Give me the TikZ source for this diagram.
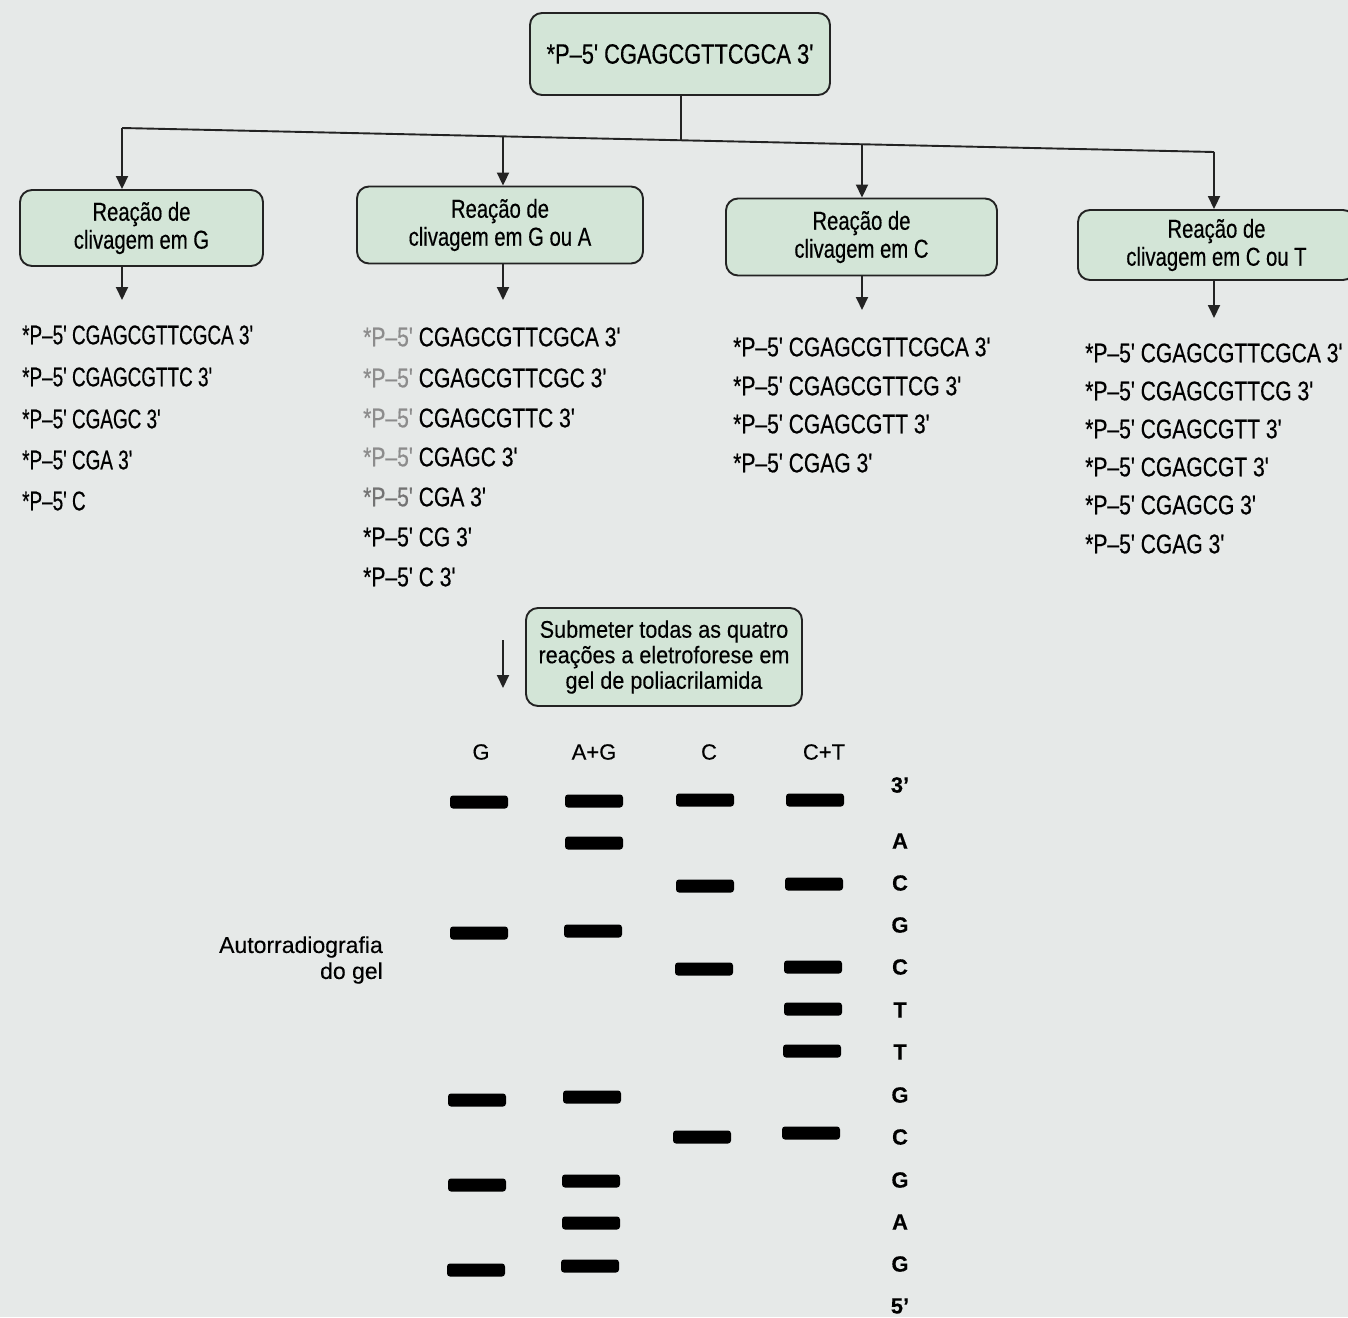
\documentclass[tikz,border=0pt]{standalone}
\usepackage{fontspec}
\setmainfont[FakeBold=0.3]{Liberation Sans}
\newfontfamily\narfont[FakeStretch=0.78,FakeBold=0.4]{Liberation Sans}
\newfontfamily\narrowerfont[FakeStretch=0.7,FakeBold=0.4]{Liberation Sans}
\newfontfamily\midfont[FakeStretch=0.9,FakeBold=0.3]{Liberation Sans}
\usetikzlibrary{arrows.meta}
\definecolor{bg}{RGB}{230,233,232}
\definecolor{boxgreen}{RGB}{211,229,215}
\definecolor{edge}{RGB}{35,35,35}
\begin{document}
\begin{tikzpicture}[x=1pt,y=-1pt,
  conn/.style={line width=1.9pt, draw=edge},
  arr/.style={conn, -{Triangle[length=13pt,width=12pt]}},
  box/.style={draw=edge, line width=1.9pt, fill=boxgreen, rounded corners=12pt, align=center, inner sep=0pt},
  rbox/.style={box, font=\narfont\fontsize{26}{28}\selectfont},
  seq/.style={anchor=west, inner sep=0pt, font=\narfont\fontsize{27}{30}\selectfont},
  seqA/.style={anchor=west, inner sep=0pt, font=\narrowerfont\fontsize{27}{30}\selectfont},
  lane/.style={inner sep=0pt, font=\fontsize{22}{24}\selectfont},
  base/.style={inner sep=0pt, font=\bfseries\fontsize{22}{24}\selectfont},
  band/.style={fill=black, rounded corners=3pt, minimum width=58pt, minimum height=13pt, inner sep=0pt}]
\useasboundingbox (0,0) rectangle (1348,1317);
\clip (0,0) rectangle (1348,1317);
\fill[bg] (0,0) rectangle (1348,1317);

% top box
\node[box, minimum width=300pt, minimum height=82pt, font=\narfont\fontsize{28}{32}\selectfont] (top) at (680,54) {*P–5' CGAGCGTTCGCA 3'};

% branching
\coordinate (jl) at (122,128);
\coordinate (jr) at (1214,152);
\coordinate (jc) at (681,140);
\coordinate (j2) at (503,136.4);
\coordinate (j3) at (862,144.3);
\draw[conn] (top.south -| jc) -- (jc);
\draw[conn] (jl) -- (jr);

% reaction boxes
\node[rbox, minimum width=243pt, minimum height=76pt] (b1) at (141.5,228) {Reação de\\clivagem em G};
\node[rbox, minimum width=286pt, minimum height=77pt] (b2) at (500,225) {Reação de\\clivagem em G ou A};
\node[rbox, minimum width=271pt, minimum height=77pt] (b3) at (861.5,237) {Reação de\\clivagem em C};
\node[rbox, minimum width=277pt, minimum height=70pt] (b4) at (1216.5,245) {Reação de\\clivagem em C ou T};

\draw[arr] (jl) -- (jl |- b1.north);
\draw[arr] (j2) -- (j2 |- b2.north);
\draw[arr] (j3) -- (j3 |- b3.north);
\draw[arr] (jr) -- (jr |- b4.north);

\coordinate (e1) at (122,300);
\coordinate (e2) at (503,300);
\coordinate (e3) at (862,310);
\coordinate (e4) at (1214,318);
\draw[arr] (e1 |- b1.south) -- (e1);
\draw[arr] (e2 |- b2.south) -- (e2);
\draw[arr] (e3 |- b3.south) -- (e3);
\draw[arr] (e4 |- b4.south) -- (e4);

% fragment lists
\node[seqA] (g1) at (22,335) {*P–5' CGAGCGTTCGCA 3'};
\node[seqA] (g2) at (22,377) {*P–5' CGAGCGTTC 3'};
\node[seqA] (g3) at (22,419) {*P–5' CGAGC 3'};
\node[seqA] (g4) at (22,460) {*P–5' CGA 3'};
\node[seqA] (g5) at (22,501) {*P–5' C};

\node[seq] (a1) at (363,337) {\textcolor{black!45}{*P–5'} CGAGCGTTCGCA 3'};
\node[seq] (a2) at (363,378) {\textcolor{black!45}{*P–5'} CGAGCGTTCGC 3'};
\node[seq] (a3) at (363,418) {\textcolor{black!45}{*P–5'} CGAGCGTTC 3'};
\node[seq] (a4) at (363,457) {\textcolor{black!45}{*P–5'} CGAGC 3'};
\node[seq] (a5) at (363,497) {\textcolor{black!55}{*P–5'} CGA 3'};
\node[seq] (a6) at (363,537) {*P–5' CG 3'};
\node[seq] (a7) at (363,577) {*P–5' C 3'};

\node[seq] (c1) at (733,347) {*P–5' CGAGCGTTCGCA 3'};
\node[seq] (c2) at (733,386) {*P–5' CGAGCGTTCG 3'};
\node[seq] (c3) at (733,424) {*P–5' CGAGCGTT 3'};
\node[seq] (c4) at (733,463) {*P–5' CGAG 3'};

\node[seq] (t1) at (1085,353) {*P–5' CGAGCGTTCGCA 3'};
\node[seq] (t2) at (1085,391) {*P–5' CGAGCGTTCG 3'};
\node[seq] (t3) at (1085,429) {*P–5' CGAGCGTT 3'};
\node[seq] (t4) at (1085,467) {*P–5' CGAGCGT 3'};
\node[seq] (t5) at (1085,505) {*P–5' CGAGCG 3'};
\node[seq] (t6) at (1085,544) {*P–5' CGAG 3'};

% electrophoresis step
\node[box, minimum width=276pt, minimum height=98pt, font=\midfont\fontsize{24}{25.5}\selectfont] (el) at (664,657) {Submeter todas as quatro\\reações a eletroforese em\\gel de poliacrilamida};
\coordinate (s1) at (503,640);
\coordinate (s2) at (503,688);
\draw[arr] (s1) -- (s2);

% gel lanes
\node[lane] (lG) at (481,752) {G};
\node[lane] (lAG) at (594,752) {A+G};
\node[lane] (lC) at (709,752) {C};
\node[lane] (lCT) at (824,752) {C+T};

\node[anchor=east, align=right, inner sep=0pt, font=\fontsize{23}{26}\selectfont] (auto) at (383,960) {Autorradiografia\\do gel};

% sequence read-out
\node[base] (r0) at (900,785) {3'};
\node[base] (r1) at (900,841) {A};
\node[base] (r2) at (900,883) {C};
\node[base] (r3) at (900,925) {G};
\node[base] (r4) at (900,967) {C};
\node[base] (r5) at (900,1010) {T};
\node[base] (r6) at (900,1052) {T};
\node[base] (r7) at (900,1095) {G};
\node[base] (r8) at (900,1137) {C};
\node[base] (r9) at (900,1180) {G};
\node[base] (r10) at (900,1222) {A};
\node[base] (r11) at (900,1264) {G};
\node[base] (r12) at (900,1306) {5'};

% bands: G lane
\node[band] (bg1) at (479,802) {};
\node[band] (bg2) at (479,933) {};
\node[band] (bg3) at (477,1100) {};
\node[band] (bg4) at (477,1185) {};
\node[band] (bg5) at (476,1270) {};
% A+G lane
\node[band] (ba1) at (594,801) {};
\node[band] (ba2) at (594,843) {};
\node[band] (ba3) at (593,931) {};
\node[band] (ba4) at (592,1097) {};
\node[band] (ba5) at (591,1181) {};
\node[band] (ba6) at (591,1223) {};
\node[band] (ba7) at (590,1266) {};
% C lane
\node[band] (bc1) at (705,800) {};
\node[band] (bc2) at (705,886) {};
\node[band] (bc3) at (704,969) {};
\node[band] (bc4) at (702,1137) {};
% C+T lane
\node[band] (bt1) at (815,800) {};
\node[band] (bt2) at (814,884) {};
\node[band] (bt3) at (813,967) {};
\node[band] (bt4) at (813,1009) {};
\node[band] (bt5) at (812,1051) {};
\node[band] (bt6) at (811,1133) {};
\end{tikzpicture}
\end{document}
